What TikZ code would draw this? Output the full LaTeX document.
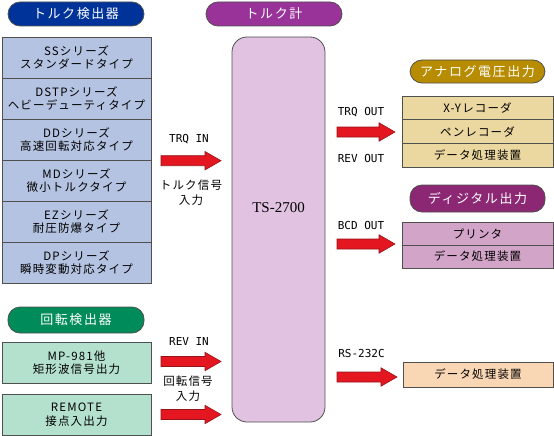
\documentclass[tikz,border=0pt]{standalone}
\usepackage{fontspec}
\usetikzlibrary{arrows.meta}
\newfontfamily\jpbox[LetterSpace=10]{Noto Sans CJK JP}
\newfontfamily\jppill[LetterSpace=12]{Noto Sans CJK JP}
\newfontfamily\monolab{DejaVu Sans Mono}
\newfontfamily\serifts{Liberation Serif}
\definecolor{pillblue}{RGB}{0,51,153}
\definecolor{pillgreen}{RGB}{0,140,90}
\definecolor{pillpurple}{RGB}{153,51,153}
\definecolor{pillgold}{RGB}{184,140,0}
\definecolor{pillplum}{RGB}{140,40,115}
\definecolor{fillblue}{RGB}{180,195,225}
\definecolor{fillgreen}{RGB}{180,225,205}
\definecolor{filllilac}{RGB}{225,195,225}
\definecolor{filltan}{RGB}{235,215,160}
\definecolor{fillmauve}{RGB}{210,165,200}
\definecolor{fillpeach}{RGB}{250,215,180}
\definecolor{cellborder}{RGB}{80,80,80}
\definecolor{arrowred}{RGB}{228,22,32}
\definecolor{arrowedge}{RGB}{150,20,25}
\newcommand\blockarr[2]{%
  \draw[blockarrow] (#1) ++(0,-5) -- ++({#2-16},0) -- ++(0,-4.2) -- ++(16,9.2)
    -- ++(-16,9.2) -- ++(0,-4.2) -- ++({16-#2},0) -- cycle;}
\begin{document}
\begin{tikzpicture}[x=1pt,y=-1pt,
  pill/.style={draw=cellborder, line width=0.8pt, rounded corners=12pt, minimum height=24pt, minimum width=136pt, inner sep=0pt, text=white, font=\jppill\fontsize{13}{15}\selectfont},
  cell/.style={draw=cellborder, line width=0.8pt, inner sep=0pt, font=\jpbox\fontsize{11.5}{13.5}\selectfont, align=center},
  lab/.style={font=\monolab\fontsize{11}{13}\selectfont, inner sep=0pt},
  jlab/.style={font=\jpbox\fontsize{11.5}{15}\selectfont, align=center, inner sep=0pt},
  blockarrow/.style={fill=arrowred, draw=arrowedge, line width=0.6pt}
]
\useasboundingbox (0,0) rectangle (554,436);

% headers
\node[pill, fill=pillblue] (hTorqueDet) at (76,14) {トルク検出器};
\node[pill, fill=pillgreen, minimum height=26pt] (hRevDet) at (76,320) {回転検出器};
\node[pill, fill=pillpurple] (hMeter) at (274,14) {トルク計};
\node[pill, fill=pillgold, minimum height=23pt, minimum width=135pt] (hAnalog) at (477.5,71.5) {アナログ電圧出力};
\node[pill, fill=pillplum, minimum height=27pt, minimum width=135pt] (hDigital) at (477.5,198.5) {ディジタル出力};

% torque detector list
\begin{scope}[every node/.style={cell, fill=fillblue, minimum width=149pt, minimum height=41pt}]
\node (ss) at (76.5,57.5) {SSシリーズ\\スタンダードタイプ};
\node (dstp) at (76.5,98.5) {DSTPシリーズ\\ヘビーデューティタイプ};
\node (dd) at (76.5,139.5) {DDシリーズ\\高速回転対応タイプ};
\node (md) at (76.5,180.5) {MDシリーズ\\微小トルクタイプ};
\node (ez) at (76.5,221.5) {EZシリーズ\\耐圧防爆タイプ};
\node (dp) at (76.5,262.5) {DPシリーズ\\瞬時変動対応タイプ};
\end{scope}

% rotation detectors
\begin{scope}[every node/.style={cell, fill=fillgreen, minimum width=149pt, minimum height=41pt}]
\node (mp) at (76.5,362.5) {MP-981他\\矩形波信号出力};
\node (remote) at (76.5,414.5) {REMOTE\\接点入出力};
\end{scope}

% main unit
\node[draw=cellborder, line width=0.8pt, fill=filllilac, rounded corners=15pt, minimum width=93pt, minimum height=385pt, inner sep=0pt] (ts) at (278.5,229.5) {};
\node[font=\serifts\fontsize{15}{17}\selectfont, inner sep=0pt] (tslabel) at (278.5,208) {TS-2700};

% analog outputs
\begin{scope}[every node/.style={cell, fill=filltan, minimum width=151pt, minimum height=23.7pt}]
\node (xy) at (477.5,108) {X-Yレコーダ};
\node (pen) at (477.5,131.7) {ペンレコーダ};
\node (dataA) at (477.5,155.4) {データ処理装置};
\end{scope}

% digital outputs
\begin{scope}[every node/.style={cell, fill=fillmauve, minimum width=151pt, minimum height=23pt}]
\node (printer) at (477.5,233.5) {プリンタ};
\node (dataD) at (477.5,256.5) {データ処理装置};
\end{scope}

% RS-232C output
\node[cell, fill=fillpeach, minimum width=150pt, minimum height=25pt] (dataR) at (478,374.5) {データ処理装置};

% labels
\node[lab] (trqin) at (189,139) {TRQ IN};
\node[jlab] (trqsig) at (191,192.5) {トルク信号\\入力};
\node[lab] (revin) at (189,341) {REV IN};
\node[jlab] (revsig) at (188,388.5) {回転信号\\入力};
\node[lab] (trqout) at (361,112) {TRQ OUT};
\node[lab] (revout) at (361,158) {REV OUT};
\node[lab] (bcdout) at (361,225) {BCD OUT};
\node[lab] (rsout) at (361.5,353) {RS-232C};

% block arrows (start point, length)
\coordinate (a1s) at (161,160.7);
\coordinate (a2s) at (161,361.5);
\coordinate (a3s) at (161,414.5);
\coordinate (a4s) at (337,132);
\coordinate (a5s) at (337,244);
\coordinate (a6s) at (337,377);
\blockarr{a1s}{60}
\blockarr{a2s}{60}
\blockarr{a3s}{60}
\blockarr{a4s}{58}
\blockarr{a5s}{58}
\blockarr{a6s}{60}
\end{tikzpicture}
\end{document}
